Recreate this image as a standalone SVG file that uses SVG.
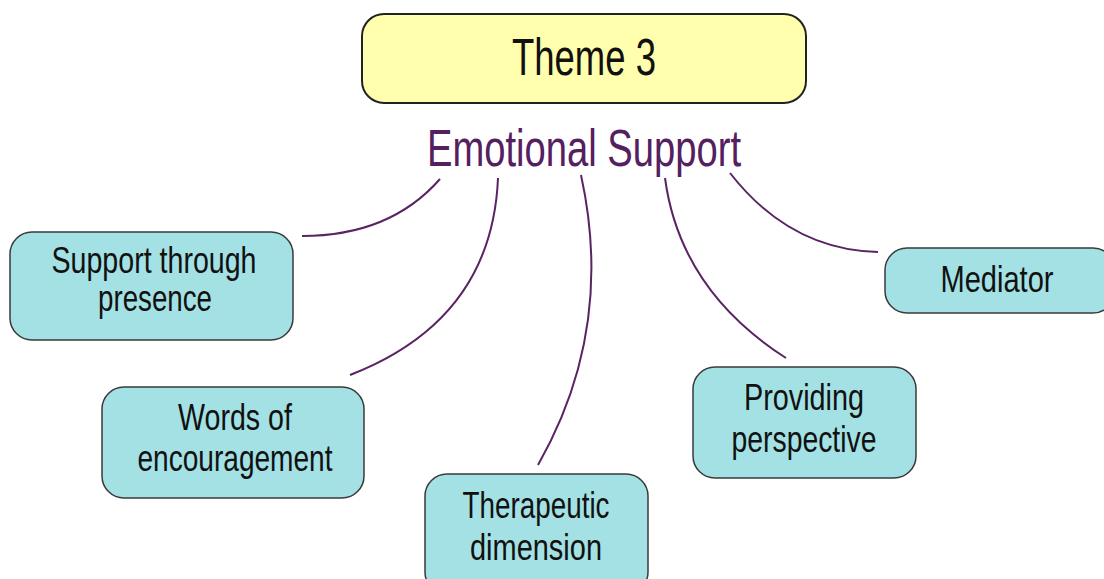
<svg xmlns="http://www.w3.org/2000/svg" width="1104" height="579" viewBox="0 0 1104 579">
<style>
.box{fill:#a3e1e4;stroke:#3a3a3a;stroke-width:1.5}
.t{font-family:"Liberation Sans",Arial,sans-serif;font-size:37px;fill:#111;text-anchor:middle}
.c{fill:none;stroke:#5a2363;stroke-width:2}
</style>
<rect width="1104" height="579" fill="#ffffff"/>
<g id="theme">
<rect x="362" y="14" width="444" height="89" rx="22" fill="#ffffad" stroke="#222" stroke-width="2"/>
<text x="584" y="75" font-family="'Liberation Sans',Arial,sans-serif" font-size="52" fill="#111" text-anchor="middle" textLength="144" lengthAdjust="spacingAndGlyphs">Theme 3</text>
</g>
<g id="emotional">
<text x="584" y="166" font-family="'Liberation Sans',Arial,sans-serif" font-size="52" fill="#55205f" text-anchor="middle" textLength="314" lengthAdjust="spacingAndGlyphs">Emotional Support</text>
</g>
<g id="connectors">
<path class="c" d="M440,179 Q390,236 302,236"/>
<path class="c" d="M498,178 Q492,320 350,375"/>
<path class="c" d="M581,175 Q615,330 538,465"/>
<path class="c" d="M665,178 Q680,290 786,358"/>
<path class="c" d="M730,173 Q790,250 878,252"/>
</g>
<g id="n1">
<rect class="box" x="10" y="232" width="283" height="108" rx="22"/>
<text class="t" x="154" y="273" textLength="205" lengthAdjust="spacingAndGlyphs">Support through</text>
<text class="t" x="155" y="311" textLength="114" lengthAdjust="spacingAndGlyphs">presence</text>
</g>
<g id="n2">
<rect class="box" x="102" y="387" width="262" height="111" rx="22"/>
<text class="t" x="235" y="430" textLength="114" lengthAdjust="spacingAndGlyphs">Words of</text>
<text class="t" x="235" y="471" textLength="195" lengthAdjust="spacingAndGlyphs">encouragement</text>
</g>
<g id="n3">
<rect class="box" x="425" y="474" width="223" height="120" rx="22"/>
<text class="t" x="536" y="518" textLength="147" lengthAdjust="spacingAndGlyphs">Therapeutic</text>
<text class="t" x="536" y="560" textLength="132" lengthAdjust="spacingAndGlyphs">dimension</text>
</g>
<g id="n4">
<rect class="box" x="693" y="367" width="223" height="111" rx="22"/>
<text class="t" x="804" y="410" textLength="120" lengthAdjust="spacingAndGlyphs">Providing</text>
<text class="t" x="804" y="452" textLength="145" lengthAdjust="spacingAndGlyphs">perspective</text>
</g>
<g id="n5">
<rect class="box" x="885" y="248" width="230" height="65" rx="22"/>
<text class="t" x="997" y="292" textLength="113" lengthAdjust="spacingAndGlyphs">Mediator</text>
</g>
</svg>
